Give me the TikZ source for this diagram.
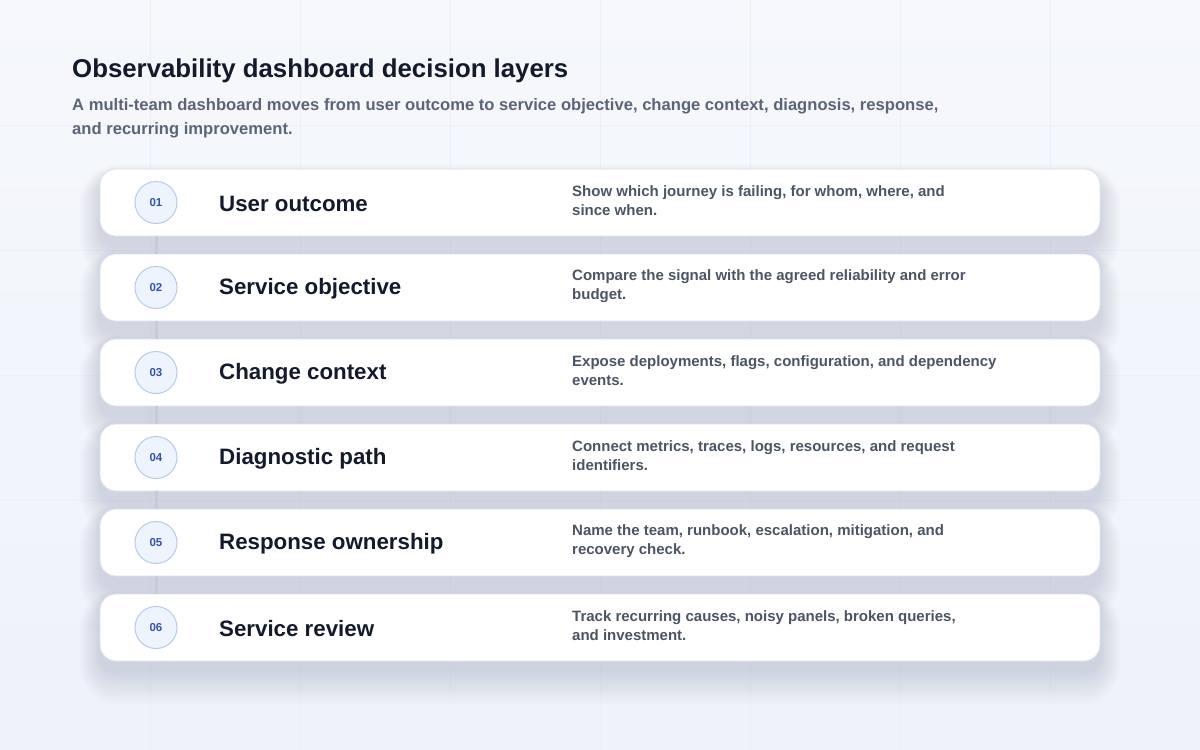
\documentclass[tikz,border=0pt]{standalone}
\usepackage{fontspec}
\setmainfont{Liberation Sans}
\usepackage{tikz}
\usetikzlibrary{calc}

\definecolor{bgtop}{HTML}{F6F8FB}
\definecolor{bgbot}{HTML}{EDF2FB}
\definecolor{gridcol}{HTML}{EBEFF6}
\definecolor{inkdark}{HTML}{131A2B}
\definecolor{inksub}{HTML}{5B6577}
\definecolor{inkdesc}{HTML}{4B5563}
\definecolor{cardedge}{HTML}{DCE2EB}
\definecolor{numfill}{HTML}{EEF4FE}
\definecolor{numedge}{HTML}{B8CBE6}
\definecolor{numink}{HTML}{3453A6}
\definecolor{linkcol}{HTML}{C6CBD4}
\definecolor{shadecol}{HTML}{2E3D6B}

\tikzset{
  layercard/.style={draw=cardedge, line width=0.8pt, fill=white, rounded corners=16pt,
    minimum width=1000pt, minimum height=67pt, inner sep=0pt},
  layershade/.style={fill=shadecol, opacity=0.007, draw=none, inner sep=0pt},
  layernum/.style={circle, draw=numedge, line width=1pt, fill=numfill, minimum size=42pt,
    inner sep=0pt, text=numink, font=\bfseries\fontsize{11.5}{13}\selectfont},
  layername/.style={anchor=west, inner sep=0pt, text=inkdark, font=\bfseries\fontsize{22.3}{26}\selectfont},
  layerdesc/.style={anchor=west, inner sep=0pt, align=left, text=inkdesc,
    font=\bfseries\fontsize{15}{19}\selectfont},
  layerlink/.style={draw=linkcol, line width=3pt}
}

\begin{document}
\begin{tikzpicture}[x=1pt, y=-1pt]
    \useasboundingbox (0,0) rectangle (1200,750);
    % background and faint grid
    \shade[top color=bgtop, bottom color=bgbot] (0,0) rectangle (1200,750);
    \foreach \gx in {150,300,...,1050} \draw[gridcol, line width=0.6pt] (\gx,0) -- (\gx,750);
    \foreach \gy in {125,250,...,625} \draw[gridcol, line width=0.6pt] (0,\gy) -- (1200,\gy);

    % heading
    \node[anchor=base west, inner sep=0pt, text=inkdark, font=\bfseries\fontsize{25.8}{30}\selectfont]
      (head) at (72,77) {Observability dashboard decision layers};
    \node[anchor=north west, inner sep=0pt, align=left, text=inksub, font=\bfseries\fontsize{16.6}{24}\selectfont]
      (sub) at (72,98.5) {A multi-team dashboard moves from user outcome to service objective, change context, diagnosis, response,\\and recurring improvement.};

    % soft shadows under the cards
    \foreach \i in {1,...,6}
      \foreach \k in {1,...,16}
        \node[layershade, rounded corners=16pt+1.5*\k pt, minimum width=1000pt+2.6*\k pt,
          minimum height=67pt+3*\k pt] at (600,{202.5+85*(\i-1)+10+0.6*\k}) {};

    % the six layers
    \foreach \i/\nm/\ds in {
      1/User outcome/{Show which journey is failing, for whom, where, and\\since when.},
      2/Service objective/{Compare the signal with the agreed reliability and error\\budget.},
      3/Change context/{Expose deployments, flags, configuration, and dependency\\events.},
      4/Diagnostic path/{Connect metrics, traces, logs, resources, and request\\identifiers.},
      5/Response ownership/{Name the team, runbook, escalation, mitigation, and\\recovery check.},
      6/Service review/{Track recurring causes, noisy panels, broken queries,\\and investment.}} {
      \node[layercard] (card\i) at (600,{202.5+85*(\i-1)}) {};
      \node[layernum] (num\i) at (156,{202.5+85*(\i-1)}) {0\i};
      \node[layername] (name\i) at (219,{203.5+85*(\i-1)}) {\nm};
      \node[layerdesc] (desc\i) at (572,{201+85*(\i-1)}) {\ds};
    }

    % links between the numbers
    \foreach \i [evaluate=\i as \j using int(\i+1)] in {1,...,5}
      \draw[layerlink] (card\i.south -| num\i) -- (card\j.north -| num\j);
\end{tikzpicture}
\end{document}
